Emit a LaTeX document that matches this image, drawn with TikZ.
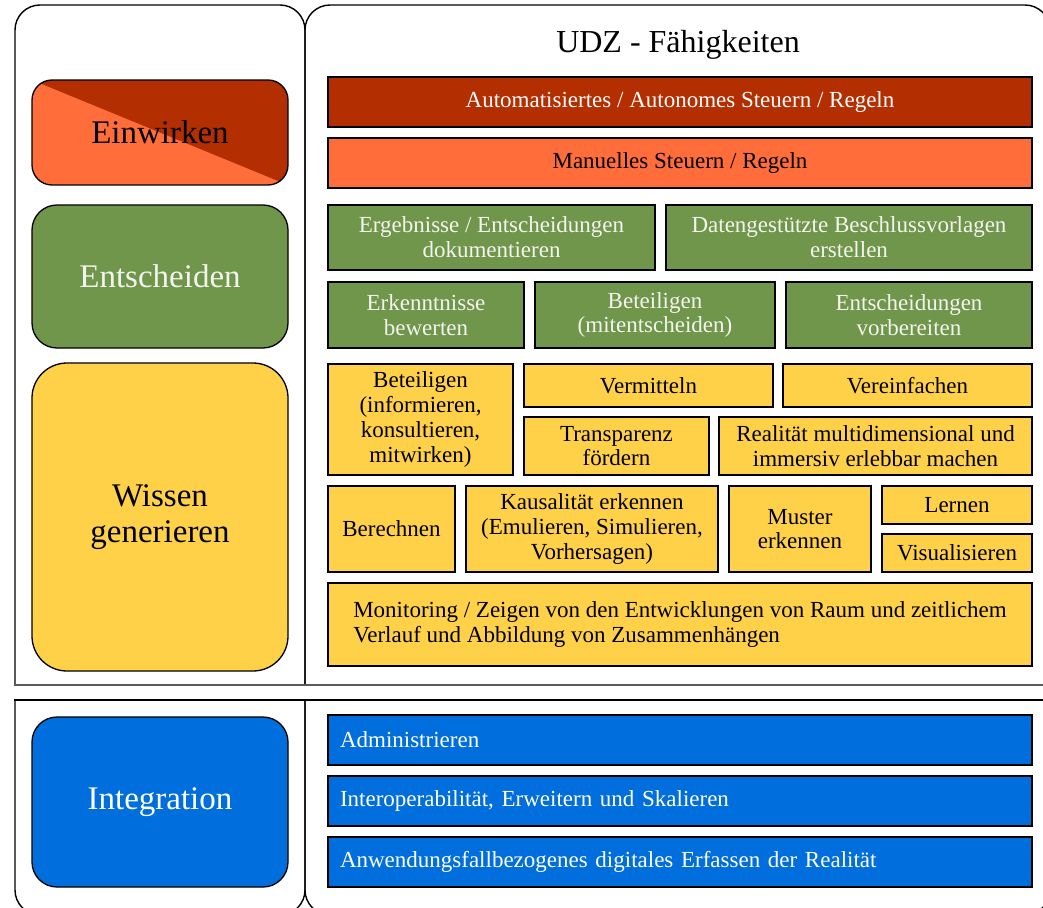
\documentclass[tikz,border=0pt]{standalone}
\usepackage{fontspec}
\setmainfont{Liberation Serif}
\usetikzlibrary{shadows}
\definecolor{cRed}{HTML}{B32E00}
\definecolor{cOrange}{HTML}{FF6D3A}
\definecolor{cGreen}{HTML}{70964B}
\definecolor{cYellow}{HTML}{FFD148}
\definecolor{cBlue}{HTML}{006EDC}
\definecolor{cLight}{HTML}{F4F4EE}
\definecolor{cLine}{HTML}{5A5A5A}
\newcommand\fsz[2]{\fontsize{#1pt}{#2pt}\selectfont}
\tikzset{
  box/.style={draw=black, line width=1.6pt, inner sep=2pt, align=center,
    font=\fsz{23}{24.8},
    drop shadow={shadow xshift=1.2pt, shadow yshift=-1.2pt, opacity=0.3}},
  lbox/.style={draw=black, line width=1.3pt, rounded corners=#1, align=center,
    font=\fsz{33}{36}, inner sep=0pt},
  frameline/.style={draw=black, line width=1.4pt, rounded corners=25pt},
  redbox/.style={fill=cRed, text=white},
  orangebox/.style={fill=cOrange, text=black},
  greenbox/.style={fill=cGreen, text=cLight},
  yellowbox/.style={fill=cYellow, text=black},
  bluebox/.style={fill=cBlue, text=white, align=left, text width=680pt, inner xsep=12pt},
}
\newcommand\mkbox[7]{\node[box,#6,minimum width={#4-#2},minimum height={#5-#3}] (#1) at ({(#2+#4)/2},{(#3+#5)/2}) {#7};}
\begin{document}
\begin{tikzpicture}[x=1pt,y=-1pt]
\fill[white] (0,0) rectangle (1043,907);
\useasboundingbox (0,0) rectangle (1043,907);

% frames
\draw[frameline] (15,685) -- (15,5) -- (305,5) -- (305,685);
\draw[frameline] (305,685) -- (305,5) -- (1050,5) -- (1050,685);
\draw[cLine, line width=1.6pt] (14,685) -- (1050,685);
\draw[black, line width=1.6pt] (14,700) -- (1050,700);
\draw[frameline] (15,700) -- (15,915) -- (305,915) -- (305,700);
\draw[frameline] (305,700) -- (305,915) -- (1050,915) -- (1050,700);

% left category boxes
\begin{scope}
  \clip[rounded corners=20pt] (32,80) rectangle (288,185);
  \fill[cOrange] (32,80) rectangle (288,185);
  \fill[cRed] (32,80) -- (288,80) -- (288,185) -- cycle;
\end{scope}
\node[lbox=20pt, minimum width=256, minimum height=105, text=black] (einwirken) at (160,132.5) {Einwirken};
\node[lbox=25pt, fill=cGreen, text=cLight, minimum width=256, minimum height=143] (entscheiden) at (160,276.5) {Entscheiden};
\node[lbox=35pt, fill=cYellow, text=black, minimum width=256, minimum height=308] (wissen) at (160,517) {Wissen\\generieren};
\node[lbox=25pt, fill=cBlue, text=white, minimum width=256, minimum height=170] (integration) at (160,802) {Integration};

% title
\node[font=\fsz{32}{36}] (title) at (678,45) {UDZ - Fähigkeiten};

% Einwirken
\mkbox{auto}{328}{77}{1032}{127}{redbox}{Automatisiertes / Autonomes Steuern / Regeln}
\mkbox{manuell}{328}{138}{1032}{188}{orangebox}{Manuelles Steuern / Regeln}

% Entscheiden
\mkbox{ergebnisse}{328}{205}{655}{270}{greenbox}{Ergebnisse / Entscheidungen\\dokumentieren}
\mkbox{daten}{666}{205}{1032}{270}{greenbox}{Datengestützte Beschlussvorlagen\\erstellen}
\mkbox{erkenntnisse}{328}{282}{524}{348}{greenbox}{Erkenntnisse\\bewerten}
\mkbox{beteiligenG}{535}{282}{775}{348}{greenbox}{Beteiligen\\(mitentscheiden)}
\mkbox{vorbereiten}{786}{282}{1032}{348}{greenbox}{Entscheidungen\\vorbereiten}

% Wissen generieren
\mkbox{beteiligenY}{328}{364}{513}{475}{yellowbox}{Beteiligen\\(informieren,\\konsultieren,\\mitwirken)}
\mkbox{vermitteln}{524}{364}{773}{407}{yellowbox}{Vermitteln}
\mkbox{vereinfachen}{783}{364}{1032}{407}{yellowbox}{Vereinfachen}
\mkbox{transparenz}{524}{417}{709}{475}{yellowbox}{Transparenz\\fördern}
\mkbox{realitaet}{719}{417}{1032}{475}{yellowbox}{Realität multidimensional und\\immersiv erlebbar machen}
\mkbox{berechnen}{328}{486}{455}{572}{yellowbox}{Berechnen}
\mkbox{kausal}{466}{486}{718}{572}{yellowbox}{Kausalität erkennen\\(Emulieren, Simulieren,\\Vorhersagen)}
\mkbox{muster}{729}{486}{871}{572}{yellowbox}{Muster\\erkennen}
\mkbox{lernen}{882}{486}{1032}{524}{yellowbox}{Lernen}
\mkbox{visual}{882}{534}{1032}{572}{yellowbox}{Visualisieren}
\mkbox{monitoring}{328}{583}{1032}{666}{yellowbox,align=left}{Monitoring / Zeigen von den Entwicklungen von Raum und zeitlichem\\Verlauf und Abbildung von Zusammenhängen}

% Integration
\mkbox{admin}{328}{715}{1032}{765}{bluebox}{Administrieren}
\mkbox{interop}{328}{776}{1032}{826}{bluebox}{Interoperabilität, Erweitern und Skalieren}
\mkbox{anwendung}{328}{837}{1032}{887}{bluebox}{Anwendungsfallbezogenes digitales Erfassen der Realität}
\end{tikzpicture}
\end{document}
